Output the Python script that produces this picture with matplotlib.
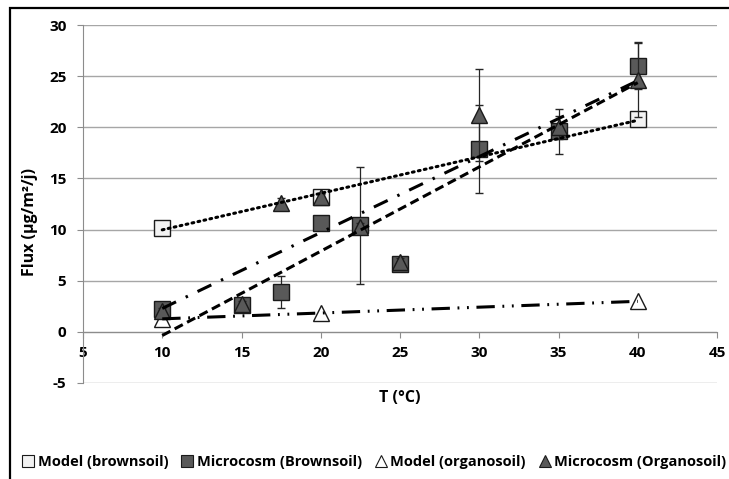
import numpy as np
import matplotlib.pyplot as plt
from matplotlib.lines import Line2D
from matplotlib.patches import Rectangle

plt.rcParams['font.family'] = ['Open Sans', 'DejaVu Sans']
plt.rcParams['font.weight'] = 'bold'
plt.rcParams['axes.unicode_minus'] = False

# data
t_model_brown = [10, 20, 40]
flux_model_brown = [10.2, 13.2, 20.8]

t_micro = [10, 15, 17.5, 20, 22.5, 25, 30, 35, 40]
flux_micro_brown = [2.2, 2.6, 3.9, 10.6, 10.4, 6.6, 17.9, 19.6, 26.0]
err_micro_brown = [0.3, 0.3, 1.6, 0.4, 5.7, 0.5, 4.3, 2.2, 2.3]

t_model_organo = [10, 20, 40]
flux_model_organo = [1.3, 1.8, 3.0]

flux_micro_organo = [2.0, 2.7, 12.6, 13.2, 10.3, 6.8, 21.2, 20.0, 24.6]
err_micro_organo = [0.3, 0.3, 0.5, 0.3, 0.3, 0.4, 4.5, 1.1, 3.6]

labels = ['Model (brownsoil)', 'Microcosm (Brownsoil)',
          'Model (organosoil)', 'Microcosm (Organosoil)']

dark = '#595959'
light = '#f2f2f2'
edge = '#1a1a1a'

fig = plt.figure(figsize=(7.29, 4.79), dpi=100)
ax = fig.add_axes([83/729, 1 - 383/479, (717 - 83)/729, (383 - 25)/479])

ms = 12
eb = dict(ecolor='#262626', elinewidth=0.9, capsize=3, capthick=0.9, ls='none')

ax.plot(t_model_brown, flux_model_brown, 's', ms=ms, mfc=light, mec=edge, mew=1, zorder=3)
ax.errorbar(t_micro, flux_micro_brown, yerr=err_micro_brown, fmt='s', ms=ms,
            mfc=dark, mec=edge, mew=1, zorder=4, **eb)
ax.plot(t_model_organo, flux_model_organo, '^', ms=ms, mfc='white', mec=edge, mew=1, zorder=5)
ax.errorbar(t_micro, flux_micro_organo, yerr=err_micro_organo, fmt='^', ms=ms,
            mfc=dark, mec=edge, mew=1, zorder=6, **eb)

# linear trendlines
def trend(x, y, **kw):
    p = np.polyfit(x, y, 1)
    xs = np.array([min(x), max(x)])
    ax.plot(xs, np.polyval(p, xs), color='black', lw=2.2, zorder=7, **kw)

trend(t_model_brown, flux_model_brown, ls=(0, (0.6, 1.4)), dash_capstyle='round')
trend(t_micro, flux_micro_brown, ls=(0, (3, 1.6)))
trend(t_model_organo, flux_model_organo, ls=(0, (6, 2.5, 0.6, 2.5, 0.6, 2.5)))
trend(t_micro, flux_micro_organo, ls=(0, (5, 3.5, 0.8, 3.5)))

ax.set_xlim(5, 45)
ax.set_ylim(-5, 30)
ax.set_xticks(np.arange(5, 46, 5))
ax.set_yticks(np.arange(-5, 31, 5))
ax.yaxis.grid(True, color='#a6a6a6', lw=1)
ax.set_axisbelow(True)
for s in ['top', 'right']:
    ax.spines[s].set_visible(False)
ax.spines['bottom'].set_position(('data', 0))
ax.spines['bottom'].set_color('#8c8c8c')
ax.spines['left'].set_color('#8c8c8c')
ax.tick_params(axis='x', length=4, color='#8c8c8c', pad=6, labelsize=11)
ax.tick_params(axis='y', length=4, color='#8c8c8c', pad=8, labelsize=11)

fig.text(400/729, 1 - 398/479, 'T (°C)', ha='center', va='center', fontsize=11.5, fontweight='bold')
fig.text(30/729, 1 - 222/479, 'Flux (µg/m²/j)', ha='center', va='center',
         rotation=90, fontsize=11.5, fontweight='bold')

handles = [
    Line2D([], [], ls='none', marker='s', ms=8, mfc=light, mec=edge, mew=0.8),
    Line2D([], [], ls='none', marker='s', ms=8, mfc=dark, mec=edge, mew=0.8),
    Line2D([], [], ls='none', marker='^', ms=8, mfc='white', mec=edge, mew=0.8),
    Line2D([], [], ls='none', marker='^', ms=8, mfc=dark, mec=edge, mew=0.8),
]
fig.legend(handles, labels, loc='center', bbox_to_anchor=(375/729, 1 - 462/479),
           ncol=4, frameon=False, fontsize=10.5, handlelength=0.6, handletextpad=0.35,
           columnspacing=1.0, borderpad=0)

fig.patches.append(Rectangle((10/729, -0.1), 1.2, 1.1 - 8/479, transform=fig.transFigure,
                             fill=False, ec='black', lw=1.6, clip_on=False))

fig.savefig('out.png', dpi=100)
